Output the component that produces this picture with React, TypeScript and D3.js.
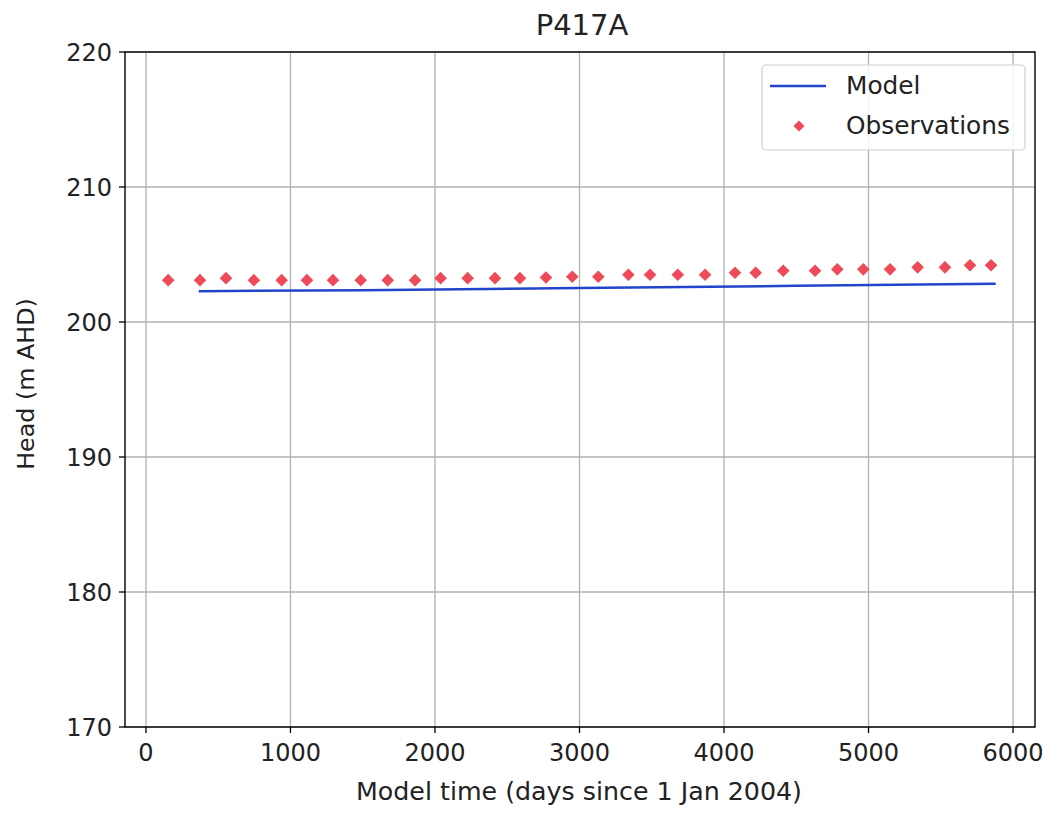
import React from "react";
import * as d3 from "d3";

const obsDays = [154, 374, 554, 747, 939, 1114, 1294, 1486, 1673, 1862, 2039, 2226, 2415, 2588, 2768, 2950, 3130, 3338, 3488, 3680, 3869, 4076, 4219, 4410, 4630, 4784, 4964, 5149, 5340, 5529, 5702, 5848];
const obsHead = [203.1, 203.1, 203.25, 203.1, 203.1, 203.1, 203.1, 203.1, 203.1, 203.1, 203.25, 203.25, 203.25, 203.25, 203.3, 203.35, 203.35, 203.5, 203.5, 203.5, 203.5, 203.65, 203.65, 203.8, 203.8, 203.9, 203.9, 203.9, 204.05, 204.05, 204.2, 204.2];
const modelDays = [365, 1500, 3000, 4500, 5880];
const modelHead = [202.28, 202.36, 202.52, 202.68, 202.84];
const xTicks = [0, 1000, 2000, 3000, 4000, 5000, 6000];
const yTicks = [170, 180, 190, 200, 210, 220];

const W = 1052, H = 820;
const L = 125, R = 1035, T = 52, B = 727;
const FONT = "'DejaVu Sans', sans-serif";

export default function App() {
  const x = d3.scaleLinear().domain([-145, 6152]).range([L, R]);
  const y = d3.scaleLinear().domain([170, 220]).range([B, T]);
  const line = d3.line<number>().x((_, i) => x(modelDays[i])).y((d) => y(d));
  const diamond = (cx: number, cy: number, r: number) =>
    `M${cx},${cy - r}L${cx + r},${cy}L${cx},${cy + r}L${cx - r},${cy}Z`;
  return (
    <svg width={W} height={H} style={{ position: "absolute", left: 0, top: 0, background: "#fff" }}>
      <rect width={W} height={H} fill="#fff" />
      {xTicks.map((t) => (
        <line key={"gx" + t} x1={x(t)} x2={x(t)} y1={T} y2={B} stroke="#b0b0b0" strokeWidth={1.3} />
      ))}
      {yTicks.map((t) => (
        <line key={"gy" + t} x1={L} x2={R} y1={y(t)} y2={y(t)} stroke="#b0b0b0" strokeWidth={1.3} />
      ))}
      <path d={line(modelHead) || ""} fill="none" stroke="#2244cc" strokeWidth={2.5} />
      {obsDays.map((d, i) => (
        <path key={"o" + i} d={diamond(x(d), y(obsHead[i]), 6.3)} fill="#ee4a58" />
      ))}
      <rect x={L} y={T} width={R - L} height={B - T} fill="none" stroke="#000" strokeWidth={1.4} />
      {xTicks.map((t) => (
        <g key={"tx" + t}>
          <line x1={x(t)} x2={x(t)} y1={B} y2={B + 6} stroke="#000" strokeWidth={1.3} />
          <text x={x(t)} y={B + 34} textAnchor="middle" fontFamily={FONT} fontSize={24} fill="#222">{t}</text>
        </g>
      ))}
      {yTicks.map((t) => (
        <g key={"ty" + t}>
          <line x1={L - 6} x2={L} y1={y(t)} y2={y(t)} stroke="#000" strokeWidth={1.3} />
          <text x={L - 13} y={y(t) + 8.5} textAnchor="end" fontFamily={FONT} fontSize={24} fill="#222">{t}</text>
        </g>
      ))}
      <text x={582} y={35} textAnchor="middle" fontFamily={FONT} fontSize={29} fill="#222">P417A</text>
      <text x={579} y={800} textAnchor="middle" fontFamily={FONT} fontSize={25.3} fill="#222">Model time (days since 1 Jan 2004)</text>
      <text transform={`translate(34,384) rotate(-90)`} textAnchor="middle" fontFamily={FONT} fontSize={23.8} fill="#222">Head (m AHD)</text>
      <g>
        <rect x={762} y={65} width={263} height={85} rx={4} fill="#fff" fillOpacity={0.85} stroke="#d0d0d0" strokeWidth={1.2} />
        <line x1={770} x2={826} y1={86} y2={86} stroke="#2244cc" strokeWidth={2.5} />
        <text x={846} y={94} fontFamily={FONT} fontSize={24.8} fill="#222">Model</text>
        <path d={diamond(799, 126, 5.5)} fill="#ee4a58" />
        <text x={846} y={134} fontFamily={FONT} fontSize={24.8} fill="#222">Observations</text>
      </g>
    </svg>
  );
}
